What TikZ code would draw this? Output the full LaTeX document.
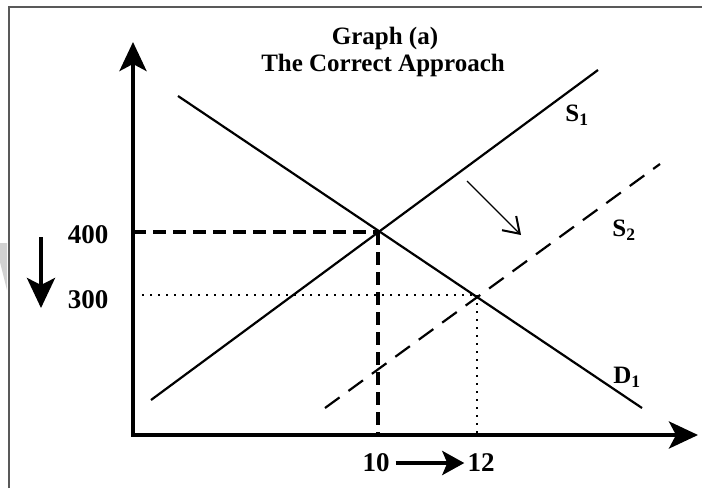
\documentclass[tikz,border=0pt]{standalone}
\usepackage{fontspec}
\setmainfont{Liberation Serif}
\usetikzlibrary{arrows.meta}
\tikzset{
  lbl/.style={font=\fontsize{25}{28}\selectfont\bfseries, inner sep=0pt},
  num/.style={font=\fontsize{27}{30}\selectfont\bfseries, inner sep=0pt},
  axis/.style={line width=4pt, -{Stealth[length=29pt,width=27pt,inset=7pt]}},
  curve/.style={line width=2.2pt},
  curvedash/.style={line width=2.2pt, dash pattern=on 18pt off 11pt},
  guidedash/.style={line width=3.5pt, dash pattern=on 13pt off 7pt},
  guidedot/.style={line width=1.5pt, dash pattern=on 2pt off 6pt},
  bigarrow/.style={line width=4pt, -{Stealth[length=30pt,width=28pt,inset=7pt]}},
  thinarrow/.style={line width=1.3pt, -{Straight Barb[length=15pt,width=20pt,line width=2pt]}}
}
\begin{document}
\begin{tikzpicture}[x=1pt,y=-1pt]
\useasboundingbox (0,0) rectangle (702,488);
\fill[white] (0,0) rectangle (702,488);
% watermark fragment
\fill[black!18] (0,243) -- (7,243) -- (7,290) -- (0,262) -- cycle;
% frame
\draw[line width=1.6pt, black!65] (9,488) -- (9,7) -- (702,7);
% coordinates
\coordinate (O) at (133,435);
\coordinate (ytop) at (133,42);
\coordinate (xend) at (698,435);
\coordinate (E1) at (378,232);
\coordinate (E2) at (477,295);
\coordinate (D1a) at (178,96);
\coordinate (D1b) at (642,408);
\coordinate (S1a) at (151,400);
\coordinate (S1b) at (598,70);
\coordinate (S2a) at (325,408);
\coordinate (S2b) at (660,164);
\coordinate (Ay) at (133,232);
\coordinate (Ax) at (378,435);
\coordinate (By) at (142,295);
\coordinate (Bx) at (477,435);
\coordinate (sh1) at (467,181);
\coordinate (sh2) at (521,235);
% axes
\draw[axis] (O) -- (ytop);
\draw[axis] ([xshift=-2pt]O) -- (xend);
% curves
\draw[curve] (D1a) -- (D1b);
\draw[curve] (S1a) -- (S1b);
\draw[curvedash] (S2a) -- (S2b);
% guides
\draw[guidedash] (Ay) -- (E1);
\draw[guidedash] (E1) -- (Ax);
\draw[guidedot] (By) -- (E2);
\draw[guidedot] (E2) -- (Bx);
% shift arrow
\draw[thinarrow] (sh1) -- (sh2);
% labels
\node[lbl] (title1) at (385,38) {Graph (a)};
\node[lbl] (title2) at (383,65) {The Correct Approach};
\node[num] (l400) at (88,235) {400};
\node[num] (l300) at (88,300) {300};
\node[num] (l10) at (376,463) {10};
\node[num] (l12) at (481,463) {12};
\node[lbl] (s1) at (577,115) {S\textsubscript{1}};
\node[lbl] (s2) at (624,230) {S\textsubscript{2}};
\node[lbl] (d1) at (627,377) {D\textsubscript{1}};
% movement arrows
\coordinate (dn1) at (41,237);
\coordinate (dn2) at (41,308);
\draw[bigarrow] (dn1) -- (dn2);
\draw[line width=4pt, -{Stealth[length=22pt,width=24pt,inset=5pt]}] ([xshift=6pt]l10.east) -- ([xshift=-3pt]l12.west);
\end{tikzpicture}
\end{document}
